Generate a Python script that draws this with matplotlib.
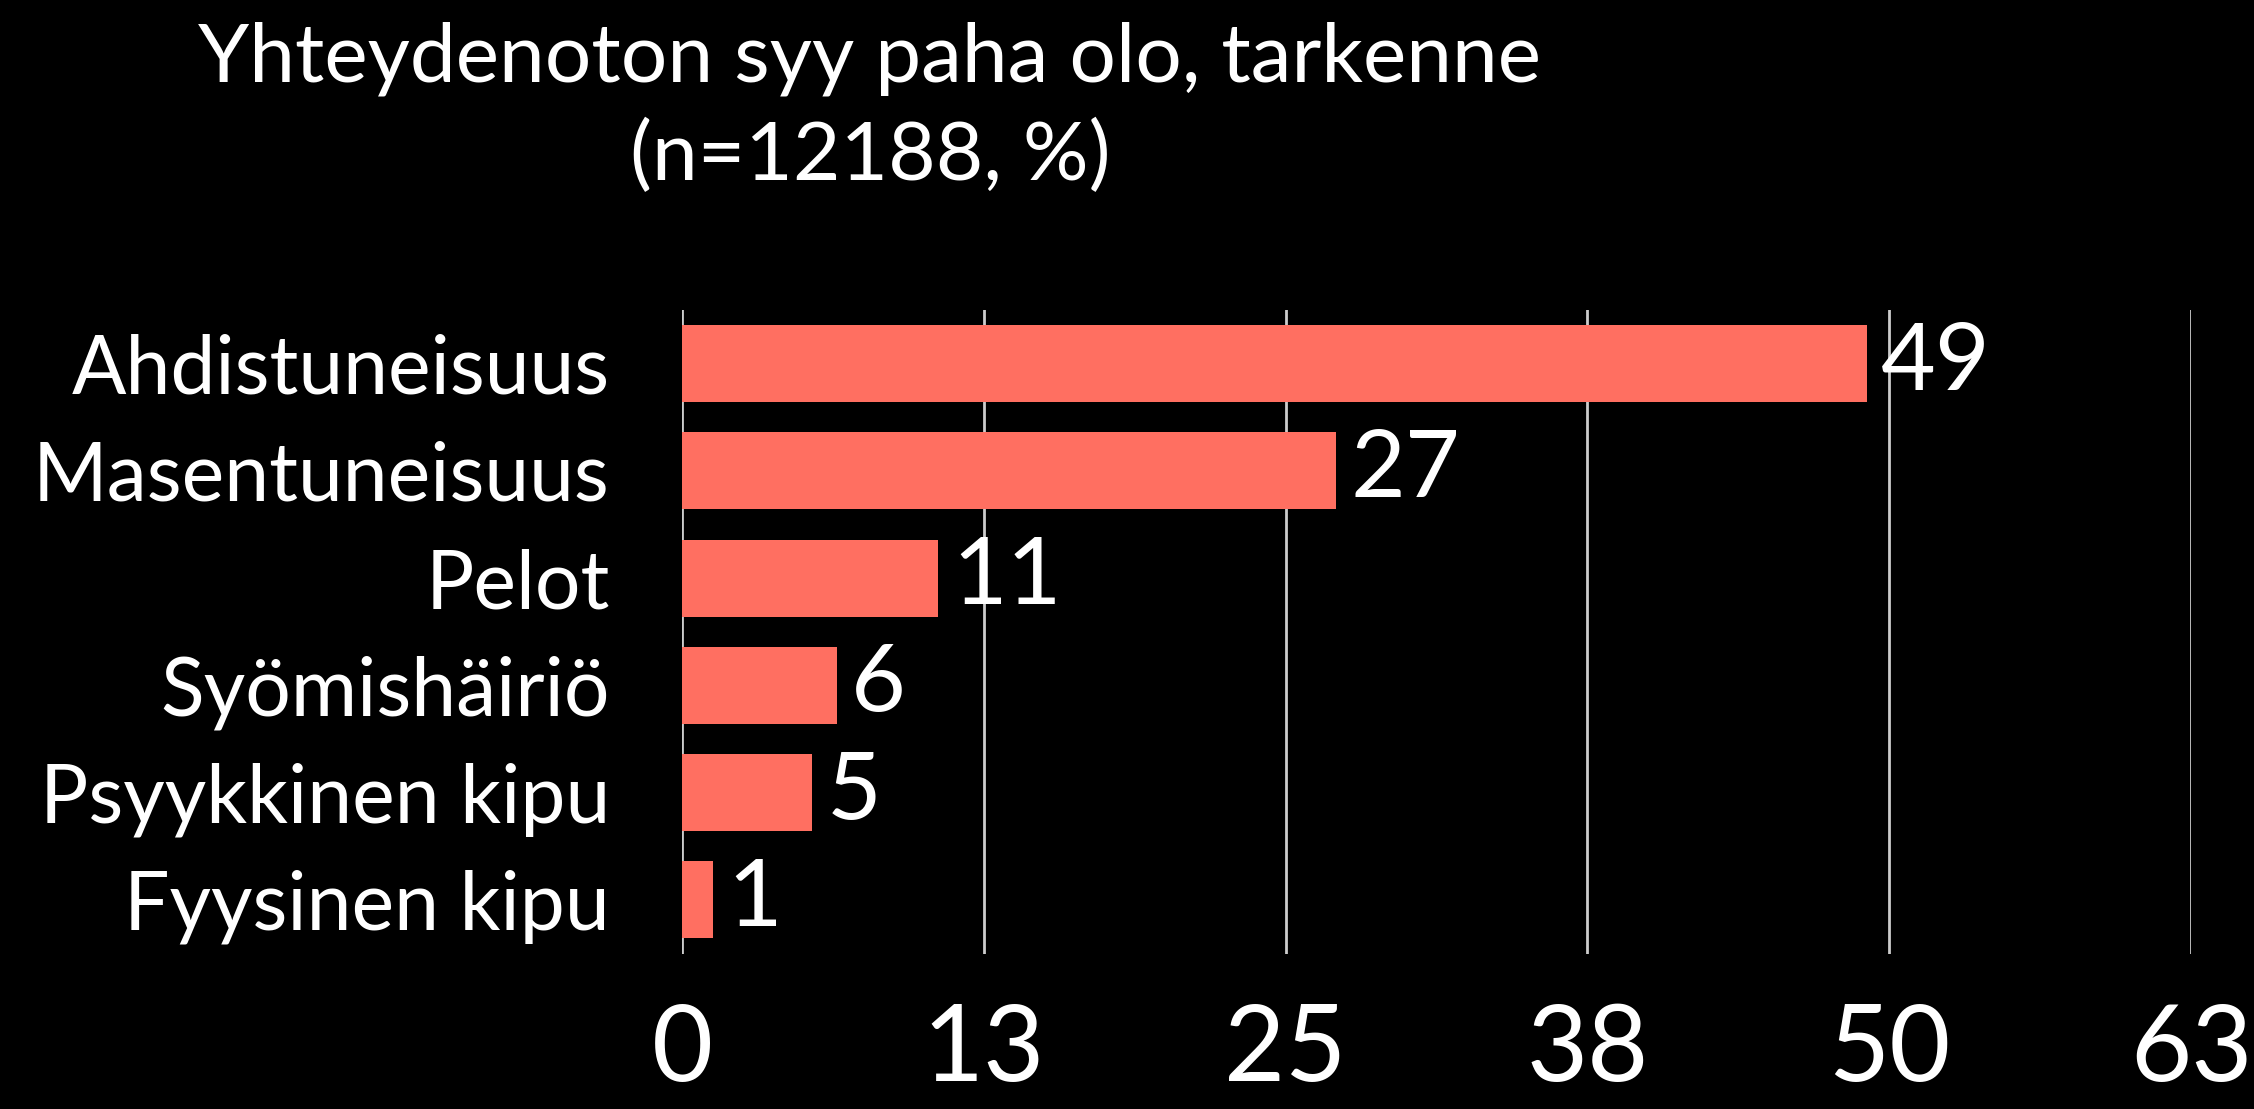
import matplotlib
matplotlib.use("Agg")
import matplotlib.pyplot as plt

categories = ["Ahdistuneisuus", "Masentuneisuus", "Pelot", "Syömishäiriö",
              "Psyykkinen kipu", "Fyysinen kipu"]
values = [49.1, 27.1, 10.6, 6.4, 5.4, 1.3]
value_labels = ["49", "27", "11", "6", "5", "1"]
x_ticks = [0, 12.5, 25, 37.5, 50, 62.5]
x_tick_labels = ["0", "13", "25", "38", "50", "63"]
title = "Yhteydenoton syy paha olo, tarkenne\n(n=12188, %)"

plt.rcParams['font.family'] = ['Lato', 'DejaVu Sans']
W, H = 2254, 1109
fig = plt.figure(figsize=(W / 100, H / 100), dpi=100, facecolor="black")
ax = fig.add_axes([682 / W, 1 - 953.5 / H, (2191 - 682) / W, (953.5 - 310) / H])
ax.set_facecolor("black")

y = list(range(len(categories)))
ax.barh(y, values, height=0.72, color="#FF6F61", zorder=3)
ax.set_ylim(len(categories) - 0.5, -0.5)
ax.set_xlim(0, 62.5)
ax.set_xticks(x_ticks)
ax.set_xticklabels(x_tick_labels)
ax.set_yticks(y)
ax.set_yticklabels(categories)
ax.tick_params(axis="x", length=0, pad=36, labelsize=76, labelcolor="white")
ax.tick_params(axis="y", length=0, pad=52, labelsize=58, labelcolor="white")
ax.grid(axis="x", color="#cccccc", linewidth=2, zorder=1)
for s in ax.spines.values():
    s.set_visible(False)

for yi, v, lab in zip(y, values, value_labels):
    ax.annotate(lab, (v, yi), xytext=(10, 0), textcoords="offset points",
                va="center", ha="left", color="white", fontsize=68, zorder=4)

fig.text(870 / W, 1 - 108 / H, title, ha="center", va="center", color="white",
         fontsize=59, linespacing=1.38)

fig.savefig("out.png", dpi=100, facecolor="black")
